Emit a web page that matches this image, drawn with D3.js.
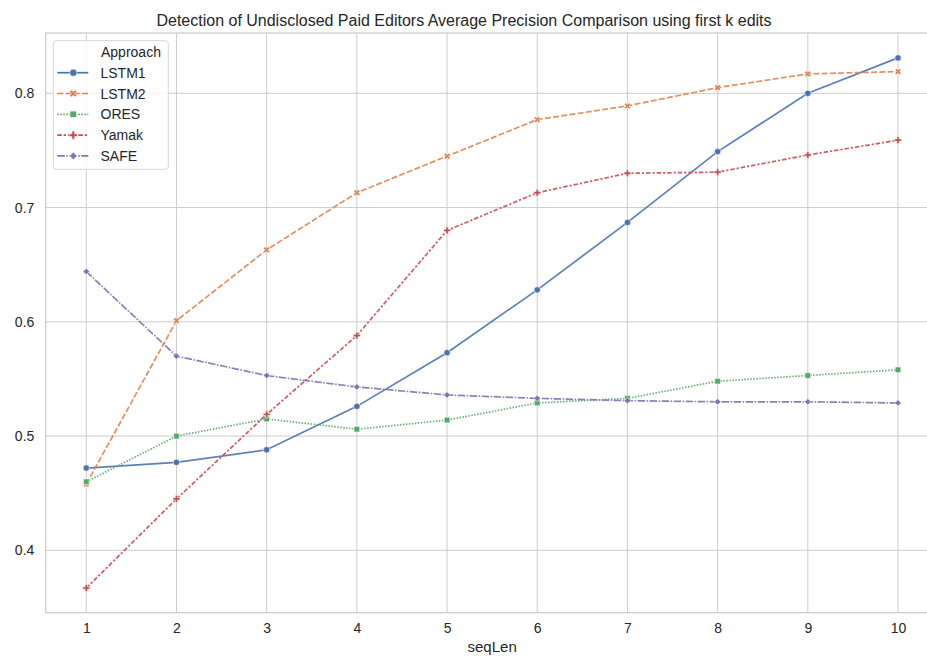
<!DOCTYPE html>
<html>
<head>
<meta charset="utf-8">
<script src="https://cdn.jsdelivr.net/npm/d3@7"></script>
<style>
  html, body { margin: 0; padding: 0; background: #fff; }
  svg { display: block; font-family: "Liberation Sans", Arial, sans-serif; }
</style>
</head>
<body>
<svg id="chart" width="927" height="656"></svg>
<script>
// Sequence lengths (first k edits)
const seqLen = [1, 2, 3, 4, 5, 6, 7, 8, 9, 10];

// Average precision for each approach
const approaches = ["LSTM1", "LSTM2", "ORES", "Yamak", "SAFE"];
const lstm1 = [0.472, 0.477, 0.488, 0.526, 0.573, 0.628, 0.687, 0.749, 0.800, 0.831];
const lstm2 = [0.458, 0.601, 0.663, 0.713, 0.745, 0.777, 0.789, 0.805, 0.817, 0.819];
const ores  = [0.460, 0.500, 0.515, 0.506, 0.514, 0.529, 0.533, 0.548, 0.553, 0.558];
const yamak = [0.367, 0.445, 0.519, 0.588, 0.680, 0.713, 0.730, 0.731, 0.746, 0.759];
const safe  = [0.644, 0.570, 0.553, 0.543, 0.536, 0.533, 0.531, 0.530, 0.530, 0.529];

const xTicks = [1, 2, 3, 4, 5, 6, 7, 8, 9, 10];
const yTicks = [0.4, 0.5, 0.6, 0.7, 0.8];

const values = [lstm1, lstm2, ores, yamak, safe];
const colors = ["#4c72b0", "#dd8452", "#55a868", "#c44e52", "#8172b3"];
const dashes = ["", "6,2.25", "1.5,1.5", "4.5,1.9,2.25,1.9", "7.5,1.5,1.5,1.5"];

const series = approaches.map((name, i) => ({
  name,
  color: colors[i],
  dash: dashes[i],
  points: seqLen.map((k, j) => ({ k, v: values[i][j] }))
}));

const svg = d3.select("#chart");
const W = 927, H = 656;
const pLeft = 45.7, pRight = 938.6, pTop = 33, pBottom = 612.7;

const x = d3.scaleLinear().domain([0.55, 10.45]).range([pLeft, pRight]);
const y = d3.scaleLinear().domain([0.3454, 0.8528]).range([pBottom, pTop]);

svg.append("rect").attr("width", W).attr("height", H).attr("fill", "#fff");

svg.append("defs").append("clipPath").attr("id", "plotclip")
  .append("rect").attr("x", pLeft).attr("y", pTop)
  .attr("width", pRight - pLeft).attr("height", pBottom - pTop);

// Grid lines
const grid = svg.append("g").attr("stroke", "#cccccc").attr("stroke-width", 1);
grid.selectAll("line.gx").data(xTicks).join("line")
  .attr("class", "gx")
  .attr("x1", d => x(d)).attr("x2", d => x(d))
  .attr("y1", pTop).attr("y2", pBottom);
grid.selectAll("line.gy").data(yTicks).join("line")
  .attr("class", "gy")
  .attr("x1", pLeft).attr("x2", pRight)
  .attr("y1", d => y(d)).attr("y2", d => y(d));

// Frame
svg.append("rect")
  .attr("x", pLeft).attr("y", pTop)
  .attr("width", pRight - pLeft).attr("height", pBottom - pTop)
  .attr("fill", "none").attr("stroke", "#cccccc").attr("stroke-width", 1.25);

// Axes (labels only, no tick marks)
const xAxis = svg.append("g")
  .attr("transform", `translate(0,${pBottom})`)
  .call(d3.axisBottom(x).tickValues(xTicks).tickSize(0).tickPadding(10.4).tickFormat(d3.format("d")));
const yAxis = svg.append("g")
  .attr("transform", `translate(${pLeft},0)`)
  .call(d3.axisLeft(y).tickValues(yTicks).tickSize(0).tickPadding(11.4).tickFormat(d3.format(".1f")));
[xAxis, yAxis].forEach(a => {
  a.select(".domain").remove();
  a.selectAll("text").attr("fill", "#262626").style("font-size", "14px")
    .style("font-family", '"Liberation Sans", Arial, sans-serif');
});

// Marker shapes per approach
function markerPath(i, scale) {
  const s = scale || 1;
  switch (i) {
    case 0: return { d: d3.symbol(d3.symbolCircle, 32 * s)(), rot: 0 };
    case 1: return { d: d3.symbol(d3.symbolCross, 26 * s)(), rot: 45 };
    case 2: return { d: d3.symbol(d3.symbolSquare, 32 * s)(), rot: 0 };
    case 3: return { d: d3.symbol(d3.symbolCross, 28 * s)(), rot: 0 };
    default: return { d: d3.symbol(d3.symbolSquare, 22 * s)(), rot: 45 };
  }
}

const line = d3.line().x(d => x(d.k)).y(d => y(d.v));
const plot = svg.append("g").attr("clip-path", "url(#plotclip)");

series.forEach((s, i) => {
  const g = plot.append("g");
  g.append("path")
    .datum(s.points)
    .attr("d", line)
    .attr("fill", "none")
    .attr("stroke", s.color)
    .attr("stroke-width", 1.7)
    .attr("stroke-dasharray", s.dash || null)
    .attr("stroke-opacity", 0.9);
  const m = markerPath(i);
  g.selectAll("path.mk").data(s.points).join("path")
    .attr("class", "mk")
    .attr("d", m.d)
    .attr("transform", d => `translate(${x(d.k)},${y(d.v)}) rotate(${m.rot})`)
    .attr("fill", s.color)
    .attr("stroke", "#fff")
    .attr("stroke-width", 0.6);
});

// Title and axis label
svg.append("text")
  .attr("x", 464).attr("y", 25.5)
  .attr("text-anchor", "middle")
  .attr("fill", "#262626")
  .style("font-size", "16px")
  .text("Detection of Undisclosed Paid Editors Average Precision Comparison using first k edits");

svg.append("text")
  .attr("x", (pLeft + pRight) / 2).attr("y", 652)
  .attr("text-anchor", "middle")
  .attr("fill", "#262626")
  .style("font-size", "15px")
  .text("seqLen");

// Legend
const lg = svg.append("g");
lg.append("rect")
  .attr("x", 53.3).attr("y", 40.7).attr("width", 115).attr("height", 128.6)
  .attr("rx", 3).attr("fill", "#fff").attr("fill-opacity", 0.8)
  .attr("stroke", "#d6d6d6").attr("stroke-width", 1);
lg.append("text")
  .attr("x", 101).attr("y", 56.7)
  .attr("fill", "#262626").style("font-size", "14px")
  .text("Approach");
series.forEach((s, i) => {
  const cy = 72.7 + i * 20.8;
  lg.append("line")
    .attr("x1", 57.3).attr("x2", 88.3).attr("y1", cy).attr("y2", cy)
    .attr("stroke", s.color).attr("stroke-width", 1.7)
    .attr("stroke-dasharray", s.dash || null);
  const m = markerPath(i, 1.3);
  lg.append("path")
    .attr("d", m.d)
    .attr("transform", `translate(73.3,${cy}) rotate(${m.rot})`)
    .attr("fill", s.color).attr("stroke", "#fff").attr("stroke-width", 0.6);
  lg.append("text")
    .attr("x", 100.5).attr("y", cy + 5)
    .attr("fill", "#262626").style("font-size", "14px")
    .text(s.name);
});
</script>
</body>
</html>
